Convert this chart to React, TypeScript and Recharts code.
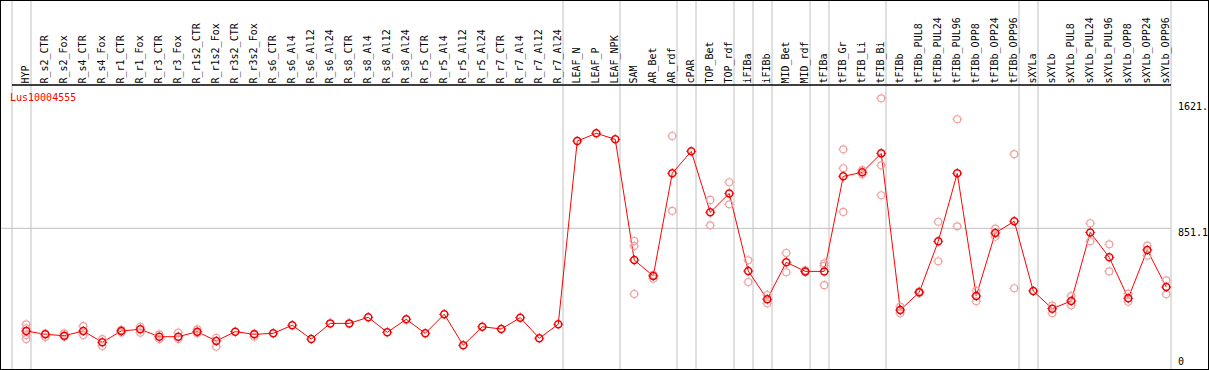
import React from 'react';
import { ComposedChart, Line, Scatter, XAxis, YAxis, ReferenceLine } from 'recharts';

const geneId = 'Lus10004555';

const categories = [
  'HYP',
  'R_s2_CTR', 'R_s2_Fox', 'R_s4_CTR', 'R_s4_Fox', 'R_r1_CTR', 'R_r1_Fox', 'R_r3_CTR', 'R_r3_Fox',
  'R_r1s2_CTR', 'R_r1s2_Fox', 'R_r3s2_CTR', 'R_r3s2_Fox',
  'R_s6_CTR', 'R_s6_Al4', 'R_s6_Al12', 'R_s6_Al24', 'R_s8_CTR', 'R_s8_Al4', 'R_s8_Al12', 'R_s8_Al24',
  'R_r5_CTR', 'R_r5_Al4', 'R_r5_Al12', 'R_r5_Al24', 'R_r7_CTR', 'R_r7_Al4', 'R_r7_Al12', 'R_r7_Al24',
  'LEAF_N', 'LEAF_P', 'LEAF_NPK',
  'SAM', 'AR_Bet', 'AR_rdf', 'cPAR', 'TOP_Bet', 'TOP_rdf', 'iFIBa', 'iFIBb', 'MID_Bet', 'MID_rdf',
  'tFIBa', 'tFIB_Gr', 'tFIB_Li', 'tFIB_Bi',
  'tFIBb', 'tFIBb_PUL8', 'tFIBb_PUL24', 'tFIBb_PUL96', 'tFIBb_OPP8', 'tFIBb_OPP24', 'tFIBb_OPP96',
  'sXYLa',
  'sXYLb', 'sXYLb_PUL8', 'sXYLb_PUL24', 'sXYLb_PUL96', 'sXYLb_OPP8', 'sXYLb_OPP24', 'sXYLb_OPP96',
];

// mean expression per sample
const meanValues = [
  243,
  223, 215, 243, 176, 243, 253, 209, 209,
  239, 184, 239, 223,
  229, 277, 195, 288, 288, 324, 235, 312,
  229, 342, 158, 268, 255, 322, 200, 283,
  1368, 1414, 1378,
  663, 569, 1177, 1307, 946, 1058, 598, 431, 650, 596,
  596, 1159, 1183, 1295,
  367, 472, 774, 1177, 450, 823, 893,
  480,
  375, 421, 827, 679, 437, 723, 503,
];

// individual replicates (empty where only the mean is visible)
const replicateValues: number[][] = [
  [282, 259, 219, 195],
  [227, 207], [229, 209], [272, 219], [195, 154], [249, 233], [268, 233], [223, 195], [233, 195],
  [253, 229], [203, 150], [], [227, 209],
  [], [], [], [], [], [], [], [],
  [], [], [], [], [], [], [], [],
  [], [], [],
  [776, 746, 462], [575, 553], [1398, 954], [], [1019, 869], [1124, 993], [662, 533], [456, 407],
  [705, 591], [602, 592],
  [644, 630, 514], [1319, 1207, 948], [1196, 1171], [1621, 1224, 1047],
  [387, 348], [478, 468], [890, 656], [1497, 863], [480, 419], [849, 801], [1290, 496],
  [],
  [393, 348], [450, 395], [881, 774], [756, 596], [464, 416], [748, 689], [543, 460],
];

// last sample index of each group (separator drawn after it)
const groupEnds = [0, 28, 31, 34, 35, 37, 38, 39, 41, 42, 45, 52, 53, 60];

const yTicks = [0, 851.1, 1621];
const yTickLabels = ['0', '851.1', '1621.'];

const FONT = '"DejaVu Sans Mono", monospace';
const GRID = '#c0c0c0';

const chartData = categories.map((name, idx) => ({ idx, name, value: meanValues[idx] }));
const replicateData = replicateValues.flatMap((reps, idx) => reps.map((value) => ({ idx, value })));

const HeaderTick = ({ x, y, payload }: any) => (
  <text
    transform={`translate(${x + 2.5},${y - 1.5}) rotate(-90)`}
    textAnchor="start"
    fontFamily={FONT}
    fontSize={10}
    fill="#000"
  >
    {categories[payload.value]}
  </text>
);

const ValueTick = ({ x, y, payload }: any) => {
  const i = yTicks.indexOf(payload.value);
  const dy = i === 0 ? -6.8 : i === 1 ? 7.5 : 12;
  return (
    <text x={x + 7} y={y + dy} textAnchor="start" fontFamily={FONT} fontSize={10} fill="#000">
      {yTickLabels[i]}
    </text>
  );
};

const MeanDot = ({ cx, cy }: any) => (
  <g>
    <circle cx={cx} cy={cy} r={3.5} fill="none" stroke="#ee0000" strokeWidth={1.5} />
    <path
      d={`M${cx} ${cy - 5}v1M${cx} ${cy + 4}v1M${cx - 5} ${cy}h1M${cx + 4} ${cy}h1`}
      stroke="#ee0000"
      strokeWidth={1}
    />
  </g>
);

const ReplicateDot = ({ cx, cy }: any) => (
  <g>
    <circle cx={cx} cy={cy} r={3.5} fill="none" stroke="#f0a0a0" strokeWidth={1.2} />
    <path
      d={`M${cx} ${cy - 5}v1M${cx} ${cy + 4}v1M${cx - 5} ${cy}h1M${cx + 4} ${cy}h1`}
      stroke="#f0a0a0"
      strokeWidth={1}
    />
  </g>
);

export default function App() {
  return (
    <div
      style={{
        position: 'absolute',
        left: 0,
        top: 0,
        width: 1209,
        height: 370,
        overflow: 'hidden',
        background: '#fff',
      }}
    >
      <ComposedChart
        width={1209}
        height={372}
        data={chartData}
        margin={{ top: 0, right: 0, bottom: 0, left: 12 }}
      >
        <XAxis
          xAxisId={0}
          orientation="top"
          type="number"
          dataKey="idx"
          domain={[-0.75, 60.25]}
          allowDataOverflow
          ticks={categories.map((_, i) => i)}
          interval={0}
          height={85}
          tickSize={0}
          tickMargin={0}
          tickLine={false}
          axisLine={{ stroke: '#000', strokeWidth: 1.5 }}
          tick={<HeaderTick />}
        />
        <YAxis
          orientation="right"
          type="number"
          domain={[0, 1700]}
          allowDataOverflow
          ticks={yTicks}
          interval={0}
          width={38}
          tickSize={0}
          tickMargin={0}
          axisLine={false}
          tickLine={false}
          tick={<ValueTick />}
        />
        <ReferenceLine
          y={851.1}
          stroke={GRID}
          shape={(p: any) => (
            <line x1={0} y1={p.y1} x2={Math.max(p.x1, p.x2)} y2={p.y2} stroke={GRID} strokeWidth={1} />
          )}
        />
        {[-1, ...groupEnds].map((g) => (
          <ReferenceLine
            key={g}
            x={g === -1 ? -0.75 : g + 0.25}
            stroke={GRID}
            shape={(p: any) => <line x1={p.x1} y1={0} x2={p.x2} y2={372} stroke={GRID} strokeWidth={1} />}
          />
        ))}
        <Scatter
          data={replicateData}
          dataKey="value"
          shape={<ReplicateDot />}
          isAnimationActive={false}
        />
        <Line
          type="linear"
          dataKey="value"
          stroke="#ff0000"
          strokeWidth={1}
          dot={<MeanDot />}
          activeDot={false}
          isAnimationActive={false}
        />
      </ComposedChart>
      <div
        style={{
          position: 'absolute',
          left: 10,
          top: 91.5,
          fontFamily: FONT,
          fontSize: 10,
          lineHeight: '12px',
          color: '#ff0000',
        }}
      >
        {geneId}
      </div>
      <div
        style={{
          position: 'absolute',
          left: 0,
          top: 0,
          width: 1209,
          height: 370,
          boxSizing: 'border-box',
          border: '1px solid #000',
          pointerEvents: 'none',
        }}
      />
    </div>
  );
}
